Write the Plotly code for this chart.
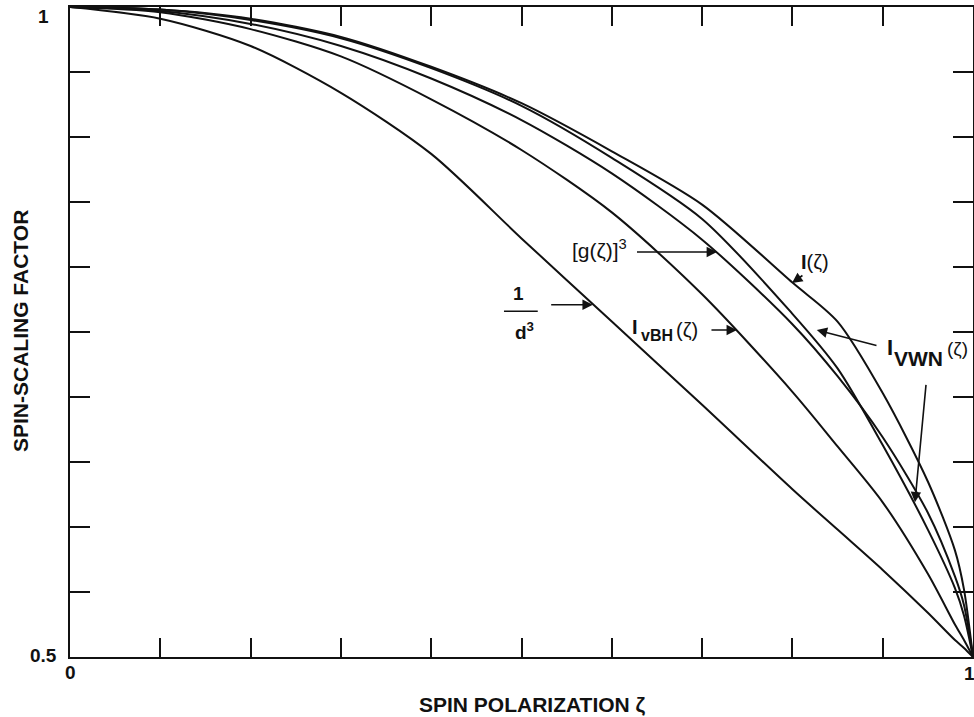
import plotly.graph_objects as go

# ---- data ----
zeta = [0, 0.1, 0.2, 0.3, 0.4, 0.5, 0.6, 0.7, 0.8, 0.85, 0.9, 0.95, 0.98, 0.99, 1.0]
inv_d3 = [1.0, 0.991, 0.970, 0.934, 0.887, 0.822, 0.758, 0.694, 0.629, 0.598, 0.567, 0.534, 0.513, 0.507, 0.5]
i_vbh = [1.0, 0.996, 0.983, 0.962, 0.929, 0.890, 0.842, 0.779, 0.704, 0.662, 0.619, 0.564, 0.525, 0.513, 0.5]
g_cubed = [1.0, 0.997, 0.987, 0.970, 0.945, 0.913, 0.872, 0.821, 0.756, 0.716, 0.669, 0.611, 0.562, 0.540, 0.5]
i_vwn = [1.0, 0.998, 0.990, 0.976, 0.953, 0.924, 0.884, 0.837, 0.764, 0.722, 0.663, 0.598, 0.553, 0.532, 0.5]
i_zeta = [1.0, 0.998, 0.991, 0.977, 0.954, 0.926, 0.889, 0.848, 0.788, 0.758, 0.703, 0.635, 0.582, 0.552, 0.5]

x_ticks = [0, 0.1, 0.2, 0.3, 0.4, 0.5, 0.6, 0.7, 0.8, 0.9, 1.0]
y_ticks = [0.5, 0.55, 0.6, 0.65, 0.7, 0.75, 0.8, 0.85, 0.9, 0.95, 1.0]
x_end_labels = ["0", "1"]
y_end_labels = ["0.5", "1"]

FONT = "Liberation Sans, Arial, sans-serif"
INK = "#111111"

fig = go.Figure()
for name, ys in [("1/d³", inv_d3), ("I_vBH", i_vbh), ("[g]³", g_cubed),
                 ("I_VWN", i_vwn), ("I", i_zeta)]:
    fig.add_trace(go.Scatter(x=zeta, y=ys, mode="lines", name=name,
                             line=dict(color=INK, width=2, shape="spline", smoothing=0.8),
                             showlegend=False, hoverinfo="skip"))

fig.update_layout(
    width=974, height=717,
    margin=dict(l=70, r=1, t=7, b=60, autoexpand=False),
    paper_bgcolor="white", plot_bgcolor="white",
    font=dict(family=FONT, color=INK, size=16),
)
fig.update_xaxes(range=[0, 1], tickvals=x_ticks, showticklabels=False,
                 ticks="inside", ticklen=19, tickwidth=2, tickcolor=INK,
                 showline=True, linewidth=2, linecolor=INK, mirror="ticks",
                 showgrid=False, zeroline=False, automargin=False)
fig.update_yaxes(range=[0.5, 1], tickvals=y_ticks, showticklabels=False,
                 ticks="inside", ticklen=20, tickwidth=2, tickcolor=INK,
                 showline=True, linewidth=2, linecolor=INK, mirror="ticks",
                 showgrid=False, zeroline=False, automargin=False)

ann = []
def ptext(x, y, text, size, **kw):
    d = dict(x=x, y=y, xref="paper", yref="paper", text=text, showarrow=False,
             xanchor="center", yanchor="middle", font=dict(size=size))
    d.update(kw)
    return d

def dtext(x, y, text, size):
    return dict(x=x, y=y, xref="x", yref="y", text=text, showarrow=False,
                xanchor="center", yanchor="middle", font=dict(size=size))

# tick labels at the axis ends
ann.append(ptext(-0.0288, 0.986, "<b>%s</b>" % y_end_labels[1], 19))
ann.append(ptext(-0.0299, 0.003, "<b>%s</b>" % y_end_labels[0], 19))
ann.append(ptext(0.0, -0.0238, "<b>%s</b>" % x_end_labels[0], 19))
ann.append(ptext(0.9956, -0.026, "<b>%s</b>" % x_end_labels[1], 19))
# axis titles
ann.append(ptext(0.5127, -0.0738, "<b>SPIN POLARIZATION ζ</b>", 21))
ann.append(ptext(-0.0554, 0.5015, "<b>SPIN-SCALING FACTOR</b>", 21, textangle=-90))

# curve labels
ann.append(dtext(0.586, 0.8136, "[g(ζ)]<sup>3</sup>", 21))
ann.append(dtext(0.497, 0.780, "<b>1</b>", 19))
ann.append(dtext(0.503, 0.751, "<b>d<sup>3</sup></b>", 19))
ann.append(dtext(0.6255, 0.7535, "<b>I</b>", 20))
ann.append(dtext(0.6495, 0.7475, "<b>vBH</b>", 16))
ann.append(dtext(0.6835, 0.7515, "(ζ)", 20))
ann.append(dtext(0.825, 0.8035, "<b>I</b>(ζ)", 20))
ann.append(dtext(0.908, 0.738, "<b>I</b>", 22))
ann.append(dtext(0.940, 0.730, "<b>VWN</b>", 21))
ann.append(dtext(0.983, 0.737, "(ζ)", 19))

def arrow(x0, y0, x1, y1):
    return dict(x=x1, y=y1, ax=x0, ay=y0, xref="x", yref="y", axref="x", ayref="y",
                text=" ", showarrow=True, arrowhead=2, arrowsize=1.3, arrowwidth=1.6,
                arrowcolor=INK, standoff=0, startstandoff=0)

ann.append(arrow(0.624, 0.8115, 0.7165, 0.8115))
ann.append(arrow(0.529, 0.771, 0.579, 0.771))
ann.append(arrow(0.7065, 0.7515, 0.7386, 0.7515))
ann.append(arrow(0.815, 0.7954, 0.7996, 0.7877))
ann.append(arrow(0.897, 0.739, 0.827, 0.7515))
ann.append(arrow(0.949, 0.717, 0.9357, 0.619))

fig.update_layout(annotations=ann)
# fraction bar of 1/d^3
fig.add_shape(type="line", x0=0.4806, x1=0.518, y0=0.766, y1=0.766,
              xref="x", yref="y", line=dict(color=INK, width=1.5))

fig.write_html("out.html",
               config={"displayModeBar": False},
               post_script="document.body.style.margin='0';document.body.style.overflow='hidden';")
